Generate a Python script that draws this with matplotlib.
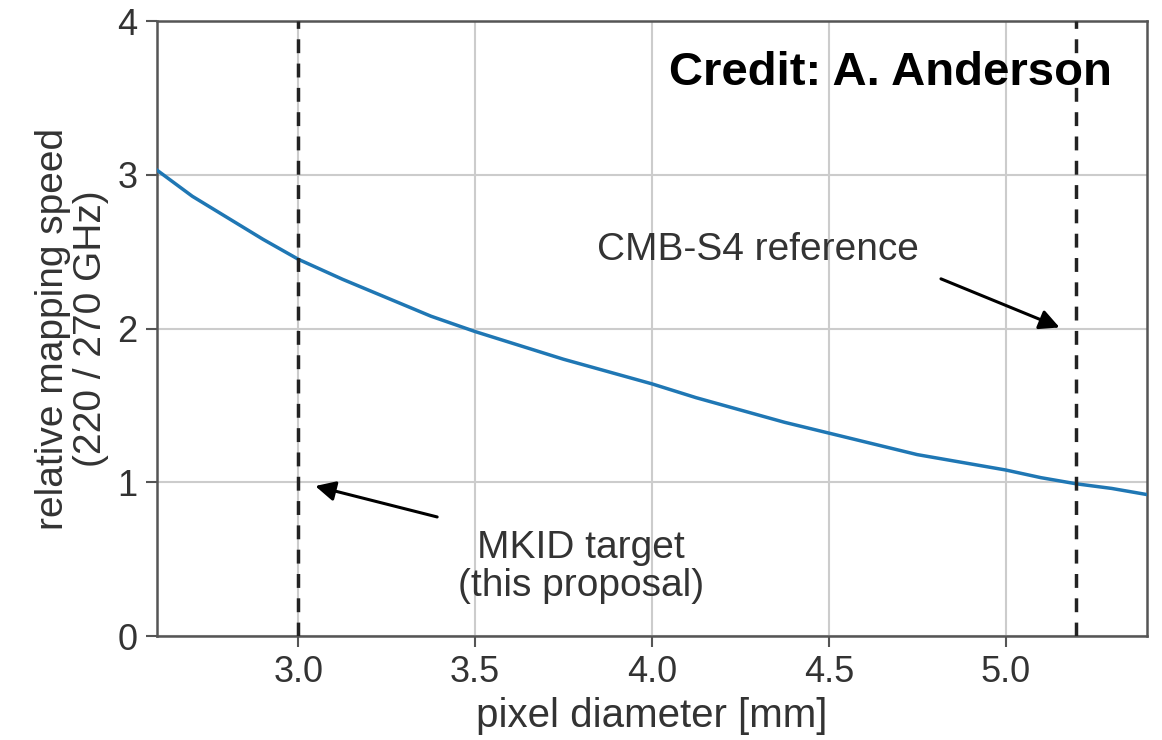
import matplotlib
matplotlib.use("Agg")
import matplotlib.pyplot as plt

plt.rcParams['font.family'] = ['Liberation Sans', 'DejaVu Sans']

# pixel diameter [mm] vs relative mapping speed
diameter = [2.6, 2.7, 2.8, 2.9, 3.0, 3.125, 3.25, 3.375, 3.5, 3.625, 3.75, 3.875, 4.0,
            4.125, 4.25, 4.375, 4.5, 4.625, 4.75, 4.875, 5.0, 5.1, 5.2, 5.3, 5.4]
speed = [3.03, 2.86, 2.72, 2.58, 2.45, 2.32, 2.20, 2.08, 1.98, 1.89, 1.80, 1.72, 1.64,
         1.55, 1.47, 1.39, 1.32, 1.25, 1.18, 1.13, 1.08, 1.03, 0.99, 0.96, 0.92]
markers = [3.0, 5.2]

fig = plt.figure(figsize=(11.62, 7.40), dpi=100)
ax = fig.add_axes([0.1351, 0.1405, 0.8520, 0.8311])

ax.plot(diameter, speed, color='#1f77b4', lw=2.5, zorder=3)
for m in markers:
    ax.axvline(m, color='#222222', ls='--', lw=2.5, dashes=(4, 3), zorder=3)

ax.set_xlim(2.6, 5.4)
ax.set_ylim(0, 4)
ax.set_xticks([3.0, 3.5, 4.0, 4.5, 5.0])
ax.set_yticks([0, 1, 2, 3, 4])
ax.grid(True, color='#cccccc', lw=1.5)
ax.set_axisbelow(True)
for s in ax.spines.values():
    s.set_color('#555555')
    s.set_linewidth(1.8)
ax.tick_params(labelsize=26, length=8, width=1.5, color='#555555', labelcolor='#333333', pad=6)

ax.set_xlabel('pixel diameter [mm]', fontsize=29, color='#333333', labelpad=5)
ax.set_ylabel('relative mapping speed\n(220 / 270 GHz)', fontsize=28, color='#333333',
              labelpad=6, linespacing=1.08)

ax.text(4.30, 2.51, 'CMB-S4 reference', fontsize=28, color='#333333',
        ha='center', va='center')
ax.annotate('', xy=(5.16, 2.0), xytext=(4.81, 2.33),
            arrowprops=dict(arrowstyle='-|>', color='black', lw=2.2, mutation_scale=30))
ax.annotate('', xy=(3.04, 0.98), xytext=(3.40, 0.77),
            arrowprops=dict(arrowstyle='-|>', color='black', lw=2.2, mutation_scale=30))
ax.text(3.80, 0.45, 'MKID target\n(this proposal)', fontsize=28, color='#333333',
        ha='center', va='center', linespacing=1.05)

fig.text(0.7665, 0.902, 'Credit: A. Anderson', fontsize=34, fontweight='bold',
         ha='center', va='center', color='black')

fig.savefig('out.png', dpi=100)
